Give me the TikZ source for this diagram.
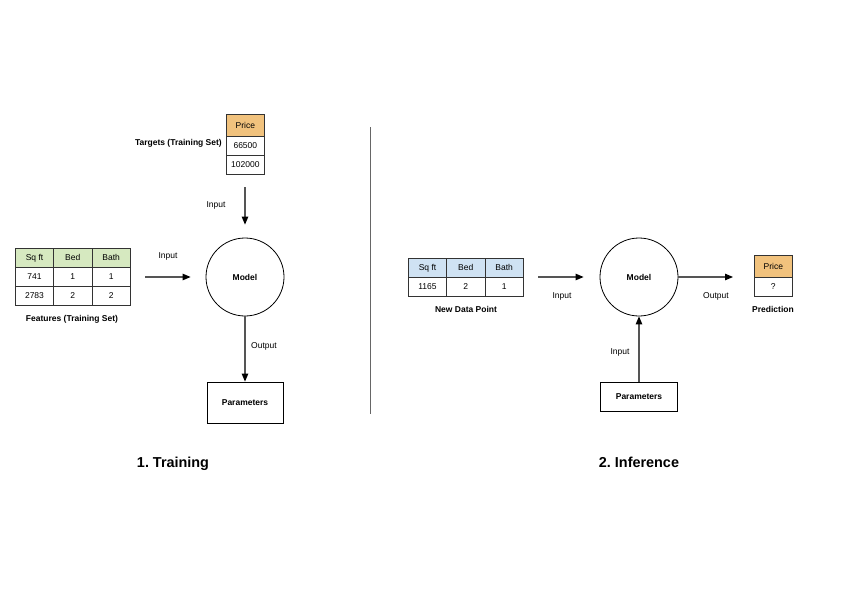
\documentclass[tikz,border=0pt]{standalone}
\usepackage{fontspec}
\setmainfont{Liberation Sans}
\usetikzlibrary{arrows.meta}
\frenchspacing
\definecolor{hdrorange}{HTML}{F1C27D}
\definecolor{hdrgreen}{HTML}{D6E9C0}
\definecolor{hdrblue}{HTML}{CFE2F3}
\definecolor{linegray}{HTML}{333333}
\definecolor{arrowgray}{HTML}{555555}
\tikzset{
  cell/.style={draw=linegray, line width=0.7pt, inner sep=0pt, font=\fontsize{8.5}{9}\selectfont, anchor=north west},
  lbl/.style={font=\fontsize{8.5}{9}\selectfont, inner sep=0pt},
  boldlbl/.style={font=\bfseries\fontsize{8.5}{9}\selectfont, inner sep=0pt},
  title/.style={font=\bfseries\fontsize{14.4}{16}\selectfont, inner sep=0pt, anchor=base},
  flow/.style={draw=arrowgray, line width=1.1pt, -{Triangle[length=8pt,width=6.5pt,color=black]}},
  model/.style={draw=black, line width=0.8pt, circle, minimum size=78pt, inner sep=0pt, font=\bfseries\fontsize{8.5}{9}\selectfont},
  parambox/.style={draw=black, line width=0.8pt, inner sep=0pt, font=\bfseries\fontsize{8.5}{9}\selectfont},
}
\begin{document}
\begin{tikzpicture}[x=1pt,y=-1pt]
\useasboundingbox (0,0) rectangle (844,597);

% ---- Training ----
% targets table
\node[cell, fill=hdrorange, minimum width=38pt, minimum height=22pt] (tp) at (226,114) {Price};
\node[cell, minimum width=38pt, minimum height=19pt] (t1) at (226,136) {66500};
\node[cell, minimum width=38pt, minimum height=19pt] (t2) at (226,155) {102000};
\node[boldlbl, anchor=east] (tlbl) at (222,143) {Targets (Training Set)};

% features table
\node[cell, fill=hdrgreen, minimum width=38.3pt, minimum height=19pt] (fa) at (15,248) {Sq ft};
\node[cell, fill=hdrgreen, minimum width=38.3pt, minimum height=19pt] (fb) at (53.3,248) {Bed};
\node[cell, fill=hdrgreen, minimum width=38.3pt, minimum height=19pt] (fc) at (91.7,248) {Bath};
\node[cell, minimum width=38.3pt, minimum height=19pt] (fa1) at (15,267) {741};
\node[cell, minimum width=38.3pt, minimum height=19pt] (fb1) at (53.3,267) {1};
\node[cell, minimum width=38.3pt, minimum height=19pt] (fc1) at (91.7,267) {1};
\node[cell, minimum width=38.3pt, minimum height=19pt] (fa2) at (15,286) {2783};
\node[cell, minimum width=38.3pt, minimum height=19pt] (fb2) at (53.3,286) {2};
\node[cell, minimum width=38.3pt, minimum height=19pt] (fc2) at (91.7,286) {2};
\node[boldlbl] (flbl) at (72,319) {Features (Training Set)};

\node[model] (m1) at (245,277) {Model};
\node[parambox, minimum width=76pt, minimum height=41pt] (p1) at (245,402.5) {Parameters};

\coordinate (tin) at (245,187);
\coordinate (fin) at (145,277);
\draw[flow, shorten >=13pt] (tin) -- (m1.north);
\draw[flow, shorten >=15pt] (fin) -- (m1.west);
\draw[flow] (m1.south) -- (p1.north);
\node[lbl] (l1) at (216,205) {Input};
\node[lbl] (l2) at (168,256) {Input};
\node[lbl] (l3) at (264,346) {Output};

\node[title] (tt) at (173,467) {1. Training};

% divider
\coordinate (d1) at (370,127);
\coordinate (d2) at (370,414);
\draw[draw=gray!80!black, line width=0.9pt] (d1) -- (d2);

% ---- Inference ----
\node[cell, fill=hdrblue, minimum width=38.3pt, minimum height=19pt] (na) at (408,258) {Sq ft};
\node[cell, fill=hdrblue, minimum width=38.3pt, minimum height=19pt] (nb) at (446.3,258) {Bed};
\node[cell, fill=hdrblue, minimum width=38.3pt, minimum height=19pt] (nc) at (484.7,258) {Bath};
\node[cell, minimum width=38.3pt, minimum height=19pt] (na1) at (408,277) {1165};
\node[cell, minimum width=38.3pt, minimum height=19pt] (nb1) at (446.3,277) {2};
\node[cell, minimum width=38.3pt, minimum height=19pt] (nc1) at (484.7,277) {1};
\node[boldlbl] (nlbl) at (466,309) {New Data Point};

\node[model] (m2) at (639,277) {Model};
\node[parambox, minimum width=77pt, minimum height=29pt] (p2) at (639,396.5) {Parameters};

\node[cell, fill=hdrorange, minimum width=38pt, minimum height=22pt] (pp) at (754,255) {Price};
\node[cell, minimum width=38pt, minimum height=19pt] (pq) at (754,277) {?};
\node[boldlbl] (plbl) at (773,309) {Prediction};

\coordinate (nin) at (538,277);
\coordinate (pout) at (733,277);
\draw[flow, shorten >=16pt] (nin) -- (m2.west);
\draw[flow] (m2.east) -- (pout);
\draw[flow] (p2.north) -- (m2.south);
\node[lbl] (l4) at (562,296) {Input};
\node[lbl] (l5) at (716,296) {Output};
\node[lbl] (l6) at (620,352) {Input};

\node[title] (it) at (639,467) {2. Inference};
\end{tikzpicture}
\end{document}
